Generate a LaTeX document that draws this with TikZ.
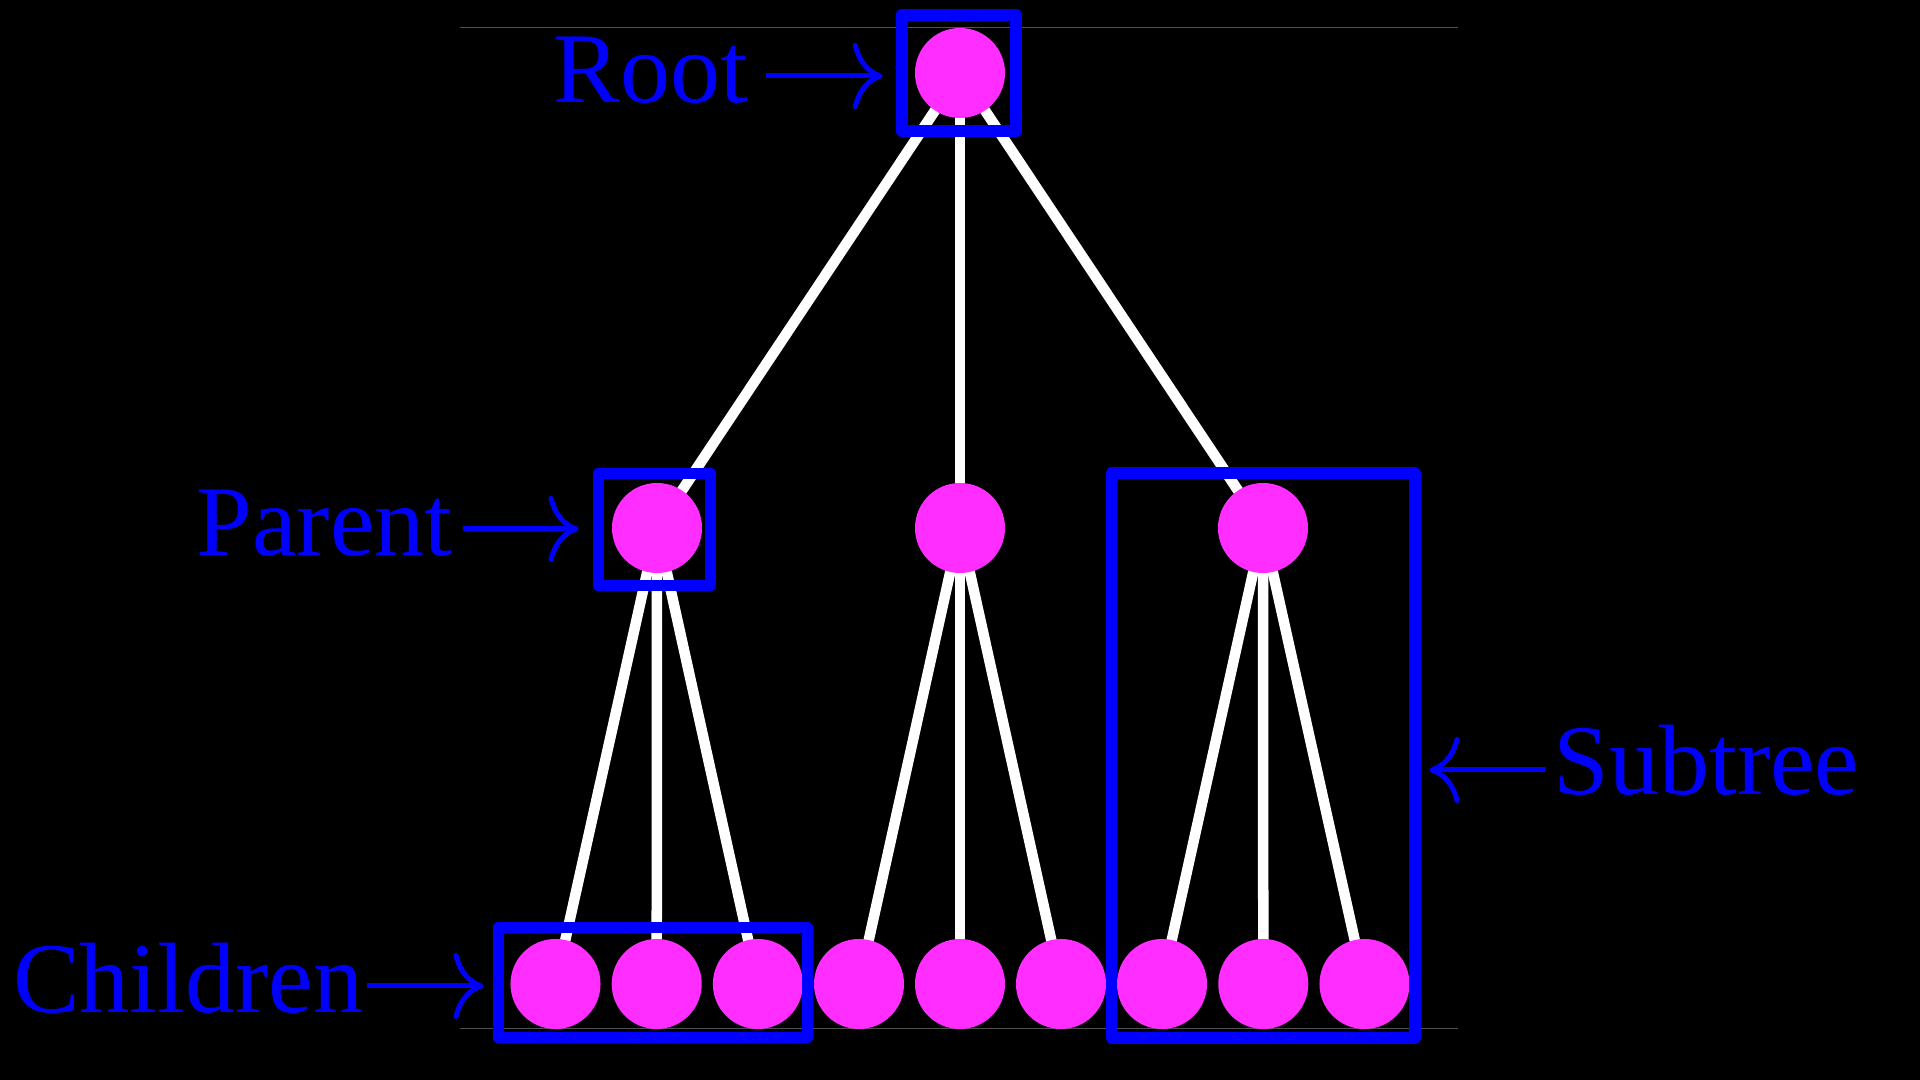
\documentclass[tikz,border=0pt]{standalone}
\usepackage{fontspec}
\setmainfont{Liberation Serif}
\usetikzlibrary{arrows.meta}
\pgfdeclarelayer{back}
\pgfdeclarelayer{edges}
\pgfsetlayers{back,edges,main}
\definecolor{nodemag}{RGB}{255,45,255}
\definecolor{rulegray}{RGB}{80,80,80}
\tikzset{
  treenode/.style={circle, fill=nodemag, minimum size=0.9cm, inner sep=0pt, outer sep=0pt},
  treeedge/.style={draw=white, line width=0.105cm},
  hibox/.style={draw=blue, line width=0.118cm, line join=round, inner sep=0pt},
  lbl/.style={text=blue, inner sep=0pt, font=\fontsize{28.45pt}{34pt}\selectfont},
  lblarrow/.style={draw=blue, line width=0.05cm, -{Computer Modern Rightarrow[length=0.3cm, width=0.66cm, line width=0.05cm]}},
  guide/.style={draw=rulegray, line width=0.01cm}
}
\begin{document}
\begin{tikzpicture}[x=0.01cm, y=-0.01cm]
\useasboundingbox (0,0) rectangle (1920,1080);
\begin{pgfonlayer}{back}
  \fill[black] (0,0) rectangle (1920,1080);
  \coordinate (g1) at (460,28);
  \coordinate (g2) at (1458,28);
  \coordinate (g3) at (460,1029);
  \coordinate (g4) at (1458,1029);
  \draw[guide] (g1) -- (g2);
  \draw[guide] (g3) -- (g4);
\end{pgfonlayer}

% tree nodes
\node[treenode] (r) at (960,73) {};
\node[treenode] (a) at (657,528) {};
\node[treenode] (b) at (960,528) {};
\node[treenode] (c) at (1263,528) {};
\foreach \i/\x in {1/555.5,2/656.7,3/757.9,4/859,5/960,6/1061,7/1162,8/1263.3,9/1364.5}
  \node[treenode] (l\i) at (\x,984) {};

% edges
\begin{pgfonlayer}{edges}
  \foreach \t in {a,b,c} \draw[treeedge] (r.center) -- (\t.center);
  \foreach \t in {1,2,3} \draw[treeedge] (a.center) -- (l\t.center);
  \foreach \t in {4,5,6} \draw[treeedge] (b.center) -- (l\t.center);
  \foreach \t in {7,8,9} \draw[treeedge] (c.center) -- (l\t.center);
\end{pgfonlayer}

% highlight boxes
\node[hibox, minimum width=1.146cm, minimum height=1.166cm] (rootbox) at (959,73) {};
\node[hibox, minimum width=1.12cm, minimum height=1.12cm] (parbox) at (654.5,529.5) {};
\node[hibox, minimum width=3.09cm, minimum height=1.10cm] (chbox) at (653,982.5) {};
\node[hibox, minimum width=3.03cm, minimum height=5.64cm] (subbox) at (1263,755.5) {};

% labels
\node[lbl, anchor=base east] (rootlbl) at (749,103) {Root};
\node[lbl, anchor=base east] (parlbl) at (453,556) {Parent};
\node[lbl, anchor=base east] (chlbl) at (364,1013) {Children};
\node[lbl, anchor=base west] (sublbl) at (1553,795) {Subtree};

% arrows
\coordinate (rootA) at ([xshift=0.17cm, yshift=0.27cm]rootlbl.base east);
\draw[lblarrow, shorten >=0.13cm] (rootA) -- (rootA -| rootbox.west);
\coordinate (parA) at ([xshift=0.1cm, yshift=0.27cm]parlbl.base east);
\draw[lblarrow, shorten >=0.14cm] (parA) -- (parA -| parbox.west);
\coordinate (chA) at ([xshift=0.03cm, yshift=0.27cm]chlbl.base east);
\draw[lblarrow, shorten >=0.09cm] (chA) -- (chA -| chbox.west);
\coordinate (subA) at ([xshift=-0.07cm, yshift=0.25cm]sublbl.base west);
\draw[lblarrow, shorten >=0.09cm] (subA) -- (subA -| subbox.east);
\end{tikzpicture}
\end{document}
